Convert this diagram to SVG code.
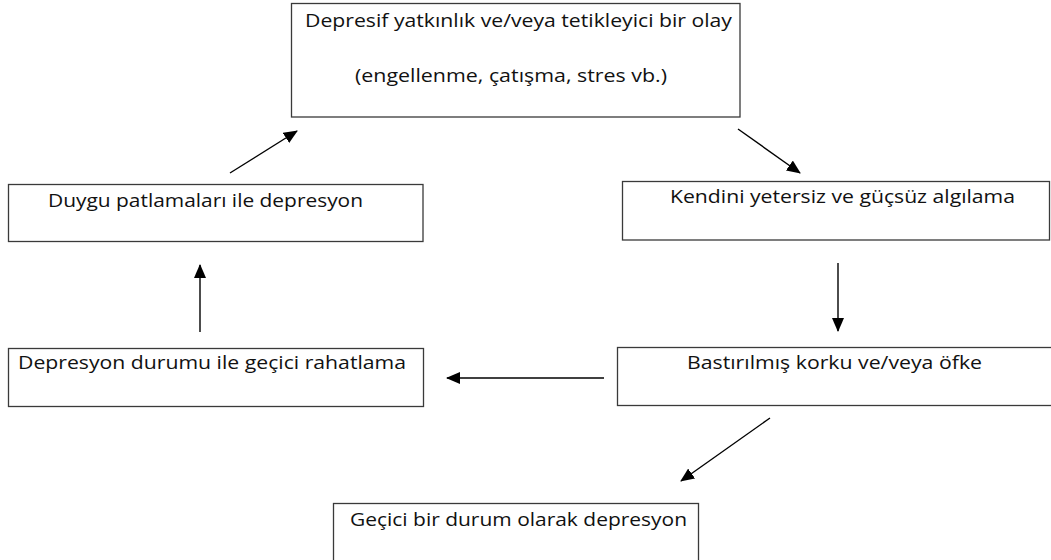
<svg xmlns="http://www.w3.org/2000/svg" width="1051" height="560" viewBox="0 0 1051 560">
<style>
.box{fill:#fff;stroke:#3a3a3a;stroke-width:1.3}
.t{font-family:"Open Sans","Liberation Sans",sans-serif;font-size:18px;fill:#111}
.c{stroke:#000;stroke-width:1.4;fill:none;marker-end:url(#ah)}
</style>
<defs>
<marker id="ah" markerUnits="userSpaceOnUse" markerWidth="14" markerHeight="12" viewBox="0 0 14 12" refX="13" refY="6" orient="auto">
<path d="M0,0 L14,6 L0,12 Z" fill="#000"/>
</marker>
</defs>
<rect width="1051" height="560" fill="#fff"/>
<g id="n1">
<rect class="box" x="291.5" y="3.5" width="448.5" height="113.5"/>
<text class="t" x="305" y="27" textLength="427" lengthAdjust="spacingAndGlyphs">Depresif yatkınlık ve/veya tetikleyici bir olay</text>
<text class="t" x="355" y="82" textLength="312" lengthAdjust="spacingAndGlyphs">(engellenme, çatışma, stres vb.)</text>
</g>
<g id="n2">
<rect class="box" x="622.5" y="181.5" width="427" height="58.5"/>
<text class="t" x="670" y="203" textLength="345" lengthAdjust="spacingAndGlyphs">Kendini yetersiz ve güçsüz algılama</text>
</g>
<g id="n3">
<rect class="box" x="617.5" y="347.5" width="440" height="58"/>
<text class="t" x="687" y="369" textLength="295" lengthAdjust="spacingAndGlyphs">Bastırılmış korku ve/veya öfke</text>
</g>
<g id="n4">
<rect class="box" x="333.5" y="503.5" width="365" height="60"/>
<text class="t" x="350" y="526" textLength="337" lengthAdjust="spacingAndGlyphs">Geçici bir durum olarak depresyon</text>
</g>
<g id="n5">
<rect class="box" x="8.5" y="348.5" width="415" height="58"/>
<text class="t" x="18" y="369" textLength="388" lengthAdjust="spacingAndGlyphs">Depresyon durumu ile geçici rahatlama</text>
</g>
<g id="n6">
<rect class="box" x="8.5" y="184.5" width="414.5" height="57"/>
<text class="t" x="48" y="207" textLength="315" lengthAdjust="spacingAndGlyphs">Duygu patlamaları ile depresyon</text>
</g>
<g id="connectors">
<line class="c" x1="738" y1="129" x2="800" y2="173"/>
<line class="c" x1="838" y1="263" x2="838" y2="331"/>
<line class="c" x1="604" y1="378" x2="447" y2="378"/>
<line class="c" x1="770" y1="418" x2="681" y2="481"/>
<line class="c" x1="200" y1="332" x2="200" y2="265"/>
<line class="c" x1="230" y1="173" x2="297" y2="131"/>
</g>
</svg>
